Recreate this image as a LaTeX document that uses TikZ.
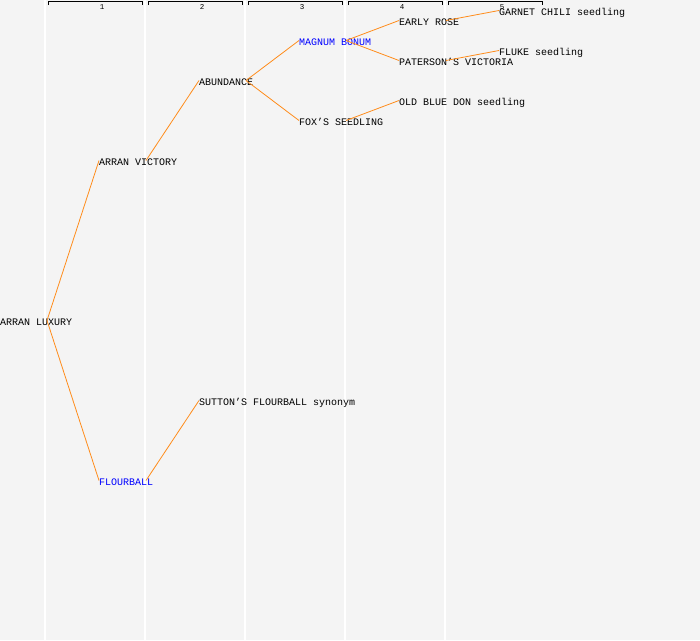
\documentclass[tikz,border=0pt]{standalone}
\usepackage{fontspec}
\setmonofont{Liberation Mono}
\usetikzlibrary{calc,positioning}
\definecolor{bggrey}{HTML}{F4F4F4}
\definecolor{linkorange}{HTML}{FF8C1A}
\definecolor{synblue}{HTML}{0000FF}
\tikzset{
    variety/.style={anchor=west, inner sep=0pt, text height=9pt, text depth=0pt,
        font=\ttfamily\fontsize{10}{10}\selectfont, text=black},
    synonym/.style={variety, text=synblue},
    link/.style={draw=linkorange, line width=0.8pt},
    colline/.style={draw=white, line width=1.6pt},
    bracket/.style={draw=black, line width=0.9pt},
    colnum/.style={inner sep=0pt, font=\ttfamily\fontsize{7.5}{7.5}\selectfont}
}

\begin{document}
\begin{tikzpicture}[x=1pt, y=-1pt]
    \def \gap {100}
    \def \stub {47}
    \fill[bggrey] (0,0) rectangle (700,640);
    \useasboundingbox (0,0) rectangle (700,640);
    % generation columns
    \foreach \c in {1,...,5}{
    \draw[colline] ({\gap*\c-55},0) -- ({\gap*\c-55},640);
    \draw[bracket] ({\gap*\c-52},5) -- ({\gap*\c-52},1.5) -- ({\gap*\c+42},1.5) -- ({\gap*\c+42},5);
    \node[colnum] (gen\c) at ({\gap*\c+2},7) {\c};}
    % varieties
    \node[variety] (luxury) at (0,320.5) {ARRAN LUXURY};
    \node[variety] (victory) at (99,160.5) {ARRAN VICTORY};
    \node[synonym] (flourball) at (99,480.5) {FLOURBALL};
    \node[variety] (abundance) at (199,80.5) {ABUNDANCE};
    \node[variety] (sutton) at (199,400.5) {SUTTON’S FLOURBALL synonym};
    \node[synonym] (magnum) at (299,40.5) {MAGNUM BONUM};
    \node[variety] (fox) at (299,120.5) {FOX’S SEEDLING};
    \node[variety] (early) at (399,20.5) {EARLY ROSE};
    \node[variety] (paterson) at (399,60.5) {PATERSON’S VICTORIA};
    \node[variety] (oldblue) at (399,100.5) {OLD BLUE DON seedling};
    \node[variety] (garnet) at (499,10.5) {GARNET CHILI seedling};
    \node[variety] (fluke) at (499,50.5) {FLUKE seedling};
    \foreach \n in {luxury,victory,flourball,abundance,magnum,fox,early,paterson}{
    \coordinate (\n-out) at ($(\n.west)+(\stub,0)$);}
    % parentage
    \draw[link] (luxury-out) -- (victory.west);
    \draw[link] (luxury-out) -- (flourball.west);
    \draw[link] (victory-out) -- (abundance.west);
    \draw[link] (flourball-out) -- (sutton.west);
    \draw[link] (abundance-out) -- (magnum.west);
    \draw[link] (abundance-out) -- (fox.west);
    \draw[link] (magnum-out) -- (early.west);
    \draw[link] (magnum-out) -- (paterson.west);
    \draw[link] (fox-out) -- (oldblue.west);
    \draw[link] (early-out) -- (garnet.west);
    \draw[link] (paterson-out) -- (fluke.west);
\end{tikzpicture}
\end{document}
